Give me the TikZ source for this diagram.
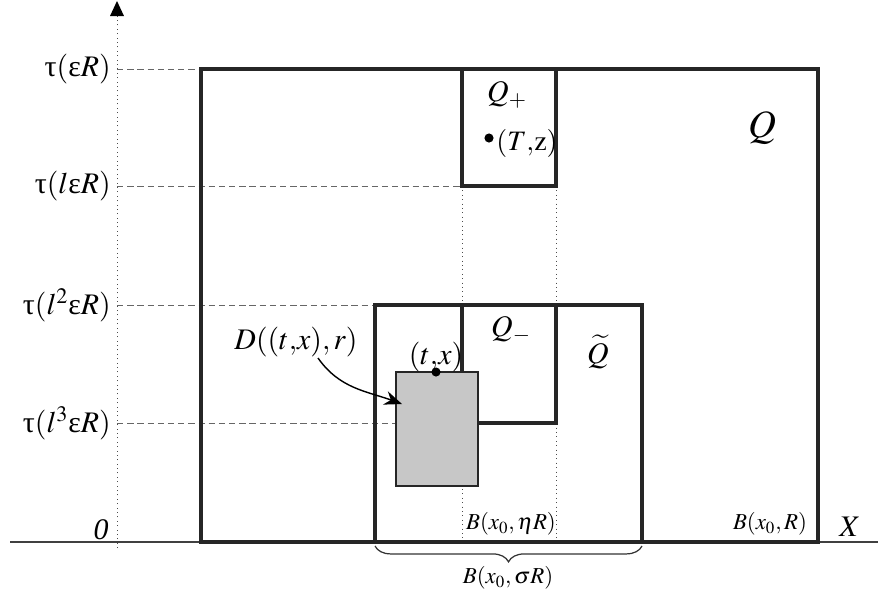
\documentclass[tikz,border=0pt]{standalone}
\usepackage{amsmath}
\usepackage{mathptmx}
\usepackage[no-math]{fontspec}
\setmainfont{Liberation Serif}
\usetikzlibrary{arrows.meta,decorations.pathreplacing,positioning}

\newcommand{\gtau}{\text{\upshape τ}}
\newcommand{\geps}{\text{\upshape ε}}

\tikzset{
  box/.style={draw=black!85, line width=2pt},
  guide/.style={draw=black!60, line width=0.5pt, dash pattern=on 3.6pt off 2.2pt},
  dotline/.style={draw=black!70, line width=0.5pt, dotted},
  lab/.style={inner sep=0pt, font=\fontsize{17}{20}\selectfont},
  small/.style={inner sep=0pt, font=\fontsize{13}{15}\selectfont},
  big/.style={inner sep=0pt, font=\fontsize{22}{26}\selectfont},
}

\begin{document}
\begin{tikzpicture}[x=0.02cm, y=-0.02cm]
  \useasboundingbox (0,0) rectangle (878,596);
  % axes
  \draw[black!75, line width=1pt] (10,542) -- (878,542);
  \draw[dotline] (117,548) -- (117,12);
  \fill (117,1) -- (110,16) -- (124,16) -- cycle;
  % guide lines
  \draw[guide] (117,69) -- (201,69);
  \draw[guide] (117,186) -- (462,186);
  \draw[guide] (117,305) -- (375,305);
  \draw[guide] (117,423) -- (396,423);
  \draw[dotline] (462,186) -- (462,542);
  \draw[dotline] (556,186) -- (556,542);
  % cylinders
  \draw[box] (201,69) rectangle (818,542);
  \draw[box] (462,69) rectangle (556,186);
  \draw[box] (375,305) rectangle (642,542);
  \draw[box] (462,305) rectangle (556,423);
  \draw[draw=black!85, line width=1.4pt, fill=black!22] (396,372) rectangle (478,486);
  % points
  \fill (436,372) circle (2.6pt);
  \fill (489,138) circle (2.6pt);
  % labels
  \node[lab, anchor=east] (t1) at (111,69) {$\gtau(\geps R)$};
  \node[lab, anchor=east] (t2) at (111,186) {$\gtau(l\geps R)$};
  \node[lab, anchor=east] (t3) at (111,305) {$\gtau(l^2\geps R)$};
  \node[lab, anchor=east] (t4) at (111,423) {$\gtau(l^3\geps R)$};
  \node[lab] (zero) at (101,530) {\itshape 0};
  \node[lab] (xlab) at (850,527) {$X$};
  \node[big] (qbig) at (762,128) {$Q$};
  \node[lab] (qplus) at (507,95) {$Q_{+}$};
  \node[lab, anchor=west, font=\fontsize{16}{19}\selectfont] (tz) at (496,143) {$(T{,}\mathrm{z})$};
  \node[lab] (qminus) at (511,330) {$Q_{-}$};
  \node[lab] (qtilde) at (598,352) {$\widetilde{Q}$};
  \node[lab] (tx) at (436,357) {$(t{,}x)$};
  \node[lab] (dlab) at (296,342) {$D((t{,}x),r)$};
  \node[small] (bR) at (770,524) {$B(x_0,R)$};
  \node[small] (beta) at (511,524) {$B(x_0,\eta R)$};
  \node[small] (bsigma) at (508,578) {$B(x_0,\sigma R)$};
  \coordinate (gray) at (402,404);
  % brace and arrow
  \draw[black!80, line width=0.7pt, decorate, decoration={brace, mirror, amplitude=9pt}]
    (375,546) -- (642,546);
  \draw[line width=0.8pt, -{Stealth[length=10pt, width=8pt]}]
    (318,358) to[out=-55, in=160] (gray);
\end{tikzpicture}
\end{document}
